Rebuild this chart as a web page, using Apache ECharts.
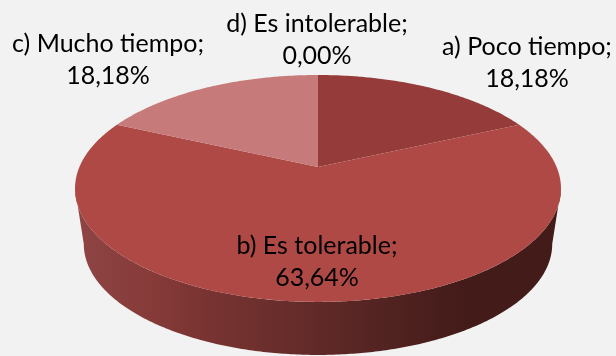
<!DOCTYPE html>
<html>
<head>
<meta charset="utf-8">
<style>html,body{margin:0;padding:0;background:#f2f2f2}#c{width:616px;height:356px}</style>
<script src="https://cdn.jsdelivr.net/npm/echarts@6/dist/echarts.min.js"></script>
</head>
<body>
<div id="c"></div>
<script>
const categories = ['a) Poco tiempo', 'b) Es tolerable', 'c) Mucho tiempo', 'd) Es intolerable'];
const percents = [18.18, 63.64, 18.18, 0.00];
const percentLabels = ['18,18%', '63,64%', '18,18%', '0,00%'];
const sliceColors = ['#953B3A', '#AF4946', '#C67A79', '#D9A5A4'];
const labelAnchors = [[527, 63], [317, 262], [108, 60], [317, 40]];

const total = percents.reduce((a, b) => a + b, 0);
const topPlane = { cx: 318, y0: 167, A: 238.6, B: 109.4, k: 0.189 };
const basePlane = { cx: 318, y0: 223, A: 230, B: 107, k: 0.189 };
function project(p, theta) {
  const u = Math.sin(theta), v = Math.cos(theta), w = 1 + p.k * v;
  return [p.cx + p.A * u / w, p.y0 - p.B * v / w];
}
const rad = (f) => f * 2 * Math.PI;
function arc(p, a0, a1) {
  const n = Math.max(2, Math.ceil(Math.abs(a1 - a0) / 0.01)), pts = [];
  for (let i = 0; i <= n; i++) pts.push(project(p, a0 + (a1 - a0) * i / n));
  return pts;
}
let running = 0;
const seriesData = categories.map((name, i) => {
  const d = { name, value: [percents[i], running, i] };
  running += percents[i];
  return d;
});
const wallGradient = {
  type: 'linear', x: 0, y: 0, x2: 1, y2: 0,
  colorStops: [
    { offset: 0, color: '#8E4543' }, { offset: 0.17, color: '#853A38' }, { offset: 0.24, color: '#7C3533' },
    { offset: 0.45, color: '#662C2A' }, { offset: 0.66, color: '#502220' }, { offset: 0.8, color: '#431B19' }, { offset: 1, color: '#431B19' }
  ]
};
const option = {
  backgroundColor: '#F2F2F2',
  animation: false,
  series: [{
    type: 'custom',
    coordinateSystem: 'none',
    data: seriesData,
    renderItem(params, api) {
      const val = api.value(0), start = api.value(1), i = api.value(2);
      const a0 = rad(start / total), a1 = rad((start + val) / total);
      const children = [];
      const topSide = Math.PI - Math.acos(topPlane.k), botSide = Math.PI - Math.acos(basePlane.k);
      if (a0 < Math.PI && a1 > Math.PI) {
        const wall = arc(topPlane, topSide, 2 * Math.PI - topSide).concat(arc(basePlane, 2 * Math.PI - botSide, botSide));
        children.push({ type: 'polygon', shape: { points: wall }, style: { fill: wallGradient } });
      }
      if (val > 0) {
        const pts = arc(topPlane, a0, a1);
        pts.push([topPlane.cx, topPlane.y0]);
        children.push({ type: 'polygon', shape: { points: pts }, style: { fill: sliceColors[i] }, z2: 2 });
      }
      return { type: 'group', children };
    },
    z: 1
  }, {
    type: 'custom',
    coordinateSystem: 'none',
    data: seriesData,
    renderItem(params, api) {
      const i = api.value(2);
      return {
        type: 'text',
        z2: 10,
        style: {
          x: labelAnchors[i][0], y: labelAnchors[i][1],
          text: categories[i] + ';\n' + percentLabels[i],
          align: 'center', verticalAlign: 'middle',
          font: '25px Lato, sans-serif', lineHeight: 32, fill: '#000'
        }
      };
    },
    z: 5
  }]
};
echarts.init(document.getElementById('c'), null, { renderer: 'canvas' }).setOption(option);
</script>
</body>
</html>
